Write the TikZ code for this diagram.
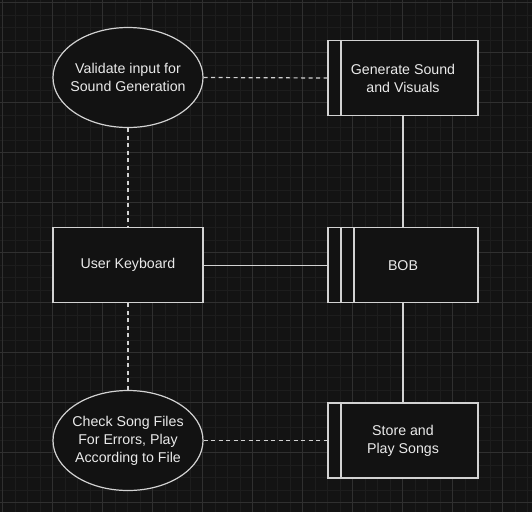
\documentclass[tikz,border=0pt]{standalone}
\usepackage{fontspec}
\setmainfont{Liberation Sans}
\usetikzlibrary{shapes.geometric}
\definecolor{bg}{HTML}{131313}
\definecolor{minorg}{HTML}{1D1D1D}
\definecolor{majorg}{HTML}{303030}
\definecolor{strokec}{HTML}{D2D2D2}
\definecolor{txtc}{HTML}{EAEAEA}
\definecolor{fillc}{HTML}{121212}
\tikzset{
  basebox/.style={draw=strokec, fill=fillc, line width=1.2pt, text=txtc, align=center,
    inner sep=0pt, font=\fontsize{14.2}{18}\selectfont},
  ell/.style={basebox, ellipse, minimum width=150pt, minimum height=100pt},
  elltext/.style={text=txtc, align=center, inner sep=0pt, font=\fontsize{14.2}{18}\selectfont},
  procbox/.style={basebox, rectangle, minimum width=150pt, minimum height=75pt},
  conn/.style={draw=strokec, line width=1.2pt},
  dashconn/.style={conn, dash pattern=on 4pt off 3.5pt},
  minorline/.style={draw=minorg, line width=0.7pt},
  majorline/.style={draw=majorg, line width=0.8pt}
}
\begin{document}
\begin{tikzpicture}[x=1pt,y=-1pt]
\fill[bg] (0,0) rectangle (532,512);
\useasboundingbox (0,0) rectangle (532,512);
\foreach \i in {0,...,42} {
  \draw[minorline] ({2.5+12.5*\i},0) -- ({2.5+12.5*\i},512);
}
\foreach \i in {0,...,40} {
  \draw[minorline] (0,{2.5+12.5*\i}) -- (532,{2.5+12.5*\i});
}
\foreach \i in {0,...,10} {
  \draw[majorline] ({2.5+50*\i},0) -- ({2.5+50*\i},512);
  \draw[majorline] (0,{2.5+50*\i}) -- (532,{2.5+50*\i});
}

\node[ell] (val) at (128,77.5) {};
\node[elltext] (valt) at (val.center) {Validate input for\\Sound Generation};
\node[procbox] (gen) at (403,78) {Generate Sound\\and Visuals};
\node[procbox] (key) at (128,265.3) {User Keyboard};
\node[procbox] (bob) at (403,265.3) {BOB};
\node[ell] (chk) at (128,440.5) {};
\node[elltext] (chkt) at (chk.center) {Check Song Files\\For Errors, Play\\According to File};
\node[procbox] (sto) at (403,440.5) {Store and\\Play Songs};

\draw[conn] ([xshift=13.5pt]gen.north west) -- ([xshift=13.5pt]gen.south west);
\draw[conn] ([xshift=13.5pt]bob.north west) -- ([xshift=13.5pt]bob.south west);
\draw[conn] ([xshift=26.5pt]bob.north west) -- ([xshift=26.5pt]bob.south west);
\draw[conn] ([xshift=13.5pt]sto.north west) -- ([xshift=13.5pt]sto.south west);

\draw[dashconn] (val.east) -- (gen.west);
\draw[dashconn] (val.south) -- (key.north);
\draw[conn] (key.east) -- (bob.west);
\draw[conn] (gen.south) -- (bob.north);
\draw[dashconn] (key.south) -- (chk.north);
\draw[conn] (bob.south) -- (sto.north);
\draw[dashconn] (chk.east) -- (sto.west);
\end{tikzpicture}
\end{document}
